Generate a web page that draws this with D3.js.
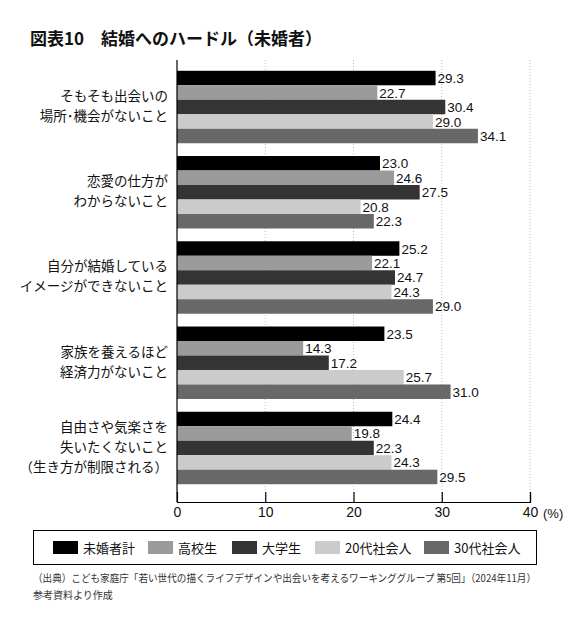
<!DOCTYPE html>
<html>
<head>
<meta charset="utf-8">
<script src="https://cdn.jsdelivr.net/npm/d3@7"></script>
<style>
  body { margin: 0; background: #fff; }
  text { font-family: "Noto Sans CJK JP", sans-serif; }
  .num { font-family: "Liberation Sans", Arial, sans-serif; }
</style>
</head>
<body>
<div id="chart"></div>
<script>
(function(){

    var categories = [
        ["そもそも出会いの", "場所･機会がないこと"],
        ["恋愛の仕方が", "わからないこと"],
        ["自分が結婚している", "イメージができないこと"],
        ["家族を養えるほど", "経済力がないこと"],
        ["自由さや気楽さを", "失いたくないこと", "（生き方が制限される）"]
    ];
    var seriesNames = ["未婚者計", "高校生", "大学生", "20代社会人", "30代社会人"];
    var seriesColors = ["#000000", "#9b9b9b", "#343434", "#cbcbcb", "#686868"];

    // one array per series, same order as categories
    var total   = [29.3, 23.0, 25.2, 23.5, 24.4];
    var high    = [22.7, 24.6, 22.1, 14.3, 19.8];
    var univ    = [30.4, 27.5, 24.7, 17.2, 22.3];
    var work20  = [29.0, 20.8, 24.3, 25.7, 24.3];
    var work30  = [34.1, 22.3, 29.0, 31.0, 29.5];
    var series = [total, high, univ, work20, work30];

    var xTicks = [0, 10, 20, 30, 40];

    var width = 583, height = 619;
    var left = 177, right = 530, top = 60, axisY = 502;

    var svg = d3.select("#chart").append("svg")
        .attr("width", width)
        .attr("height", height);

    // title
    svg.append("text")
        .attr("x", 30).attr("y", 45)
        .attr("font-size", 17).attr("font-weight", "bold")
        .attr("fill", "#111")
        .text("図表10　結婚へのハードル（未婚者）");

    var x = d3.scaleLinear().domain([0, 40]).range([left, right]);
    var y0 = d3.scaleBand().domain(d3.range(categories.length))
        .range([58, 497]).paddingInner(0.15).paddingOuter(0.15);
    var y1 = d3.scaleBand().domain(d3.range(series.length))
        .range([0, y0.bandwidth()]);

    // dotted grid
    svg.append("g").selectAll("line")
        .data(xTicks.slice(1))
        .enter().append("line")
        .attr("x1", function(d){ return x(d); })
        .attr("x2", function(d){ return x(d); })
        .attr("y1", top).attr("y2", axisY)
        .attr("stroke", "#bbb").attr("stroke-dasharray", "1,2");

    // bars
    var groups = svg.append("g").selectAll("g")
        .data(categories)
        .enter().append("g")
        .attr("transform", function(d, i){ return "translate(0," + y0(i) + ")"; });

    groups.each(function(c, ci) {
        var g = d3.select(this);
        series.forEach(function(s, si) {
            g.append("rect")
                .attr("x", x(0))
                .attr("y", y1(si))
                .attr("width", x(s[ci]) - x(0))
                .attr("height", y1.bandwidth())
                .attr("fill", seriesColors[si]);
            g.append("text")
                .attr("class", "num")
                .attr("x", x(s[ci]) + 2)
                .attr("y", y1(si) + y1.bandwidth() / 2 + 5)
                .attr("font-size", 13.5)
                .attr("fill", "#111")
                .text(s[ci].toFixed(1));
        });
        // category label
        var n = c.length;
        var cy = y0.bandwidth() / 2;
        var t = g.append("text")
            .attr("text-anchor", "end")
            .attr("font-size", 13.5)
            .attr("fill", "#111");
        c.forEach(function(line, li) {
            t.append("tspan")
                .attr("x", 168)
                .attr("y", cy + (li - (n - 1) / 2) * 20 + 4)
                .text(line);
        });
    });

    // axes
    var xAxis = svg.append("g").attr("transform", "translate(0," + axisY + ")")
        .call(d3.axisBottom(x).tickValues(xTicks).tickSize(-10).tickPadding(5).tickFormat(d3.format("d")));
    xAxis.select(".domain").attr("stroke", "#000").attr("stroke-width", 1.2);
    xAxis.selectAll(".tick line").attr("stroke", "#000").attr("stroke-width", 1.2)
        .filter(function(d){ return d === 0; }).remove();
    xAxis.selectAll(".tick text").attr("class", "num").attr("font-size", 14).attr("fill", "#111");

    svg.append("text").attr("class", "num")
        .attr("x", 543).attr("y", axisY + 16)
        .attr("font-size", 13).attr("fill", "#111")
        .text("(%)");

    svg.append("line")
        .attr("x1", left).attr("x2", left)
        .attr("y1", top).attr("y2", axisY)
        .attr("stroke", "#000").attr("stroke-width", 1.2);

    // legend
    svg.append("rect")
        .attr("x", 33.5).attr("y", 530.5).attr("width", 503).attr("height", 34)
        .attr("fill", "none").attr("stroke", "#000");
    var legendX = [53, 148, 232, 315, 424];
    var leg = svg.append("g").selectAll("g")
        .data(seriesNames)
        .enter().append("g")
        .attr("transform", function(d, i){ return "translate(" + legendX[i] + ",541)"; });
    leg.append("rect").attr("width", 25).attr("height", 13)
        .attr("fill", function(d, i){ return seriesColors[i]; });
    leg.append("text").attr("x", 30).attr("y", 11.5)
        .attr("font-size", 13).attr("fill", "#111")
        .text(function(d){ return d; });

    // source note
    svg.append("text")
        .attr("x", 33).attr("y", 582)
        .attr("font-size", 10.5).attr("fill", "#333")
        .attr("textLength", 503).attr("lengthAdjust", "spacingAndGlyphs")
        .text("（出典）こども家庭庁「若い世代の描くライフデザインや出会いを考えるワーキンググループ 第5回」（2024年11月）");
    svg.append("text")
        .attr("x", 33).attr("y", 599)
        .attr("font-size", 10).attr("fill", "#333")
        .text("参考資料より作成");

})();
</script>
</body>
</html>
